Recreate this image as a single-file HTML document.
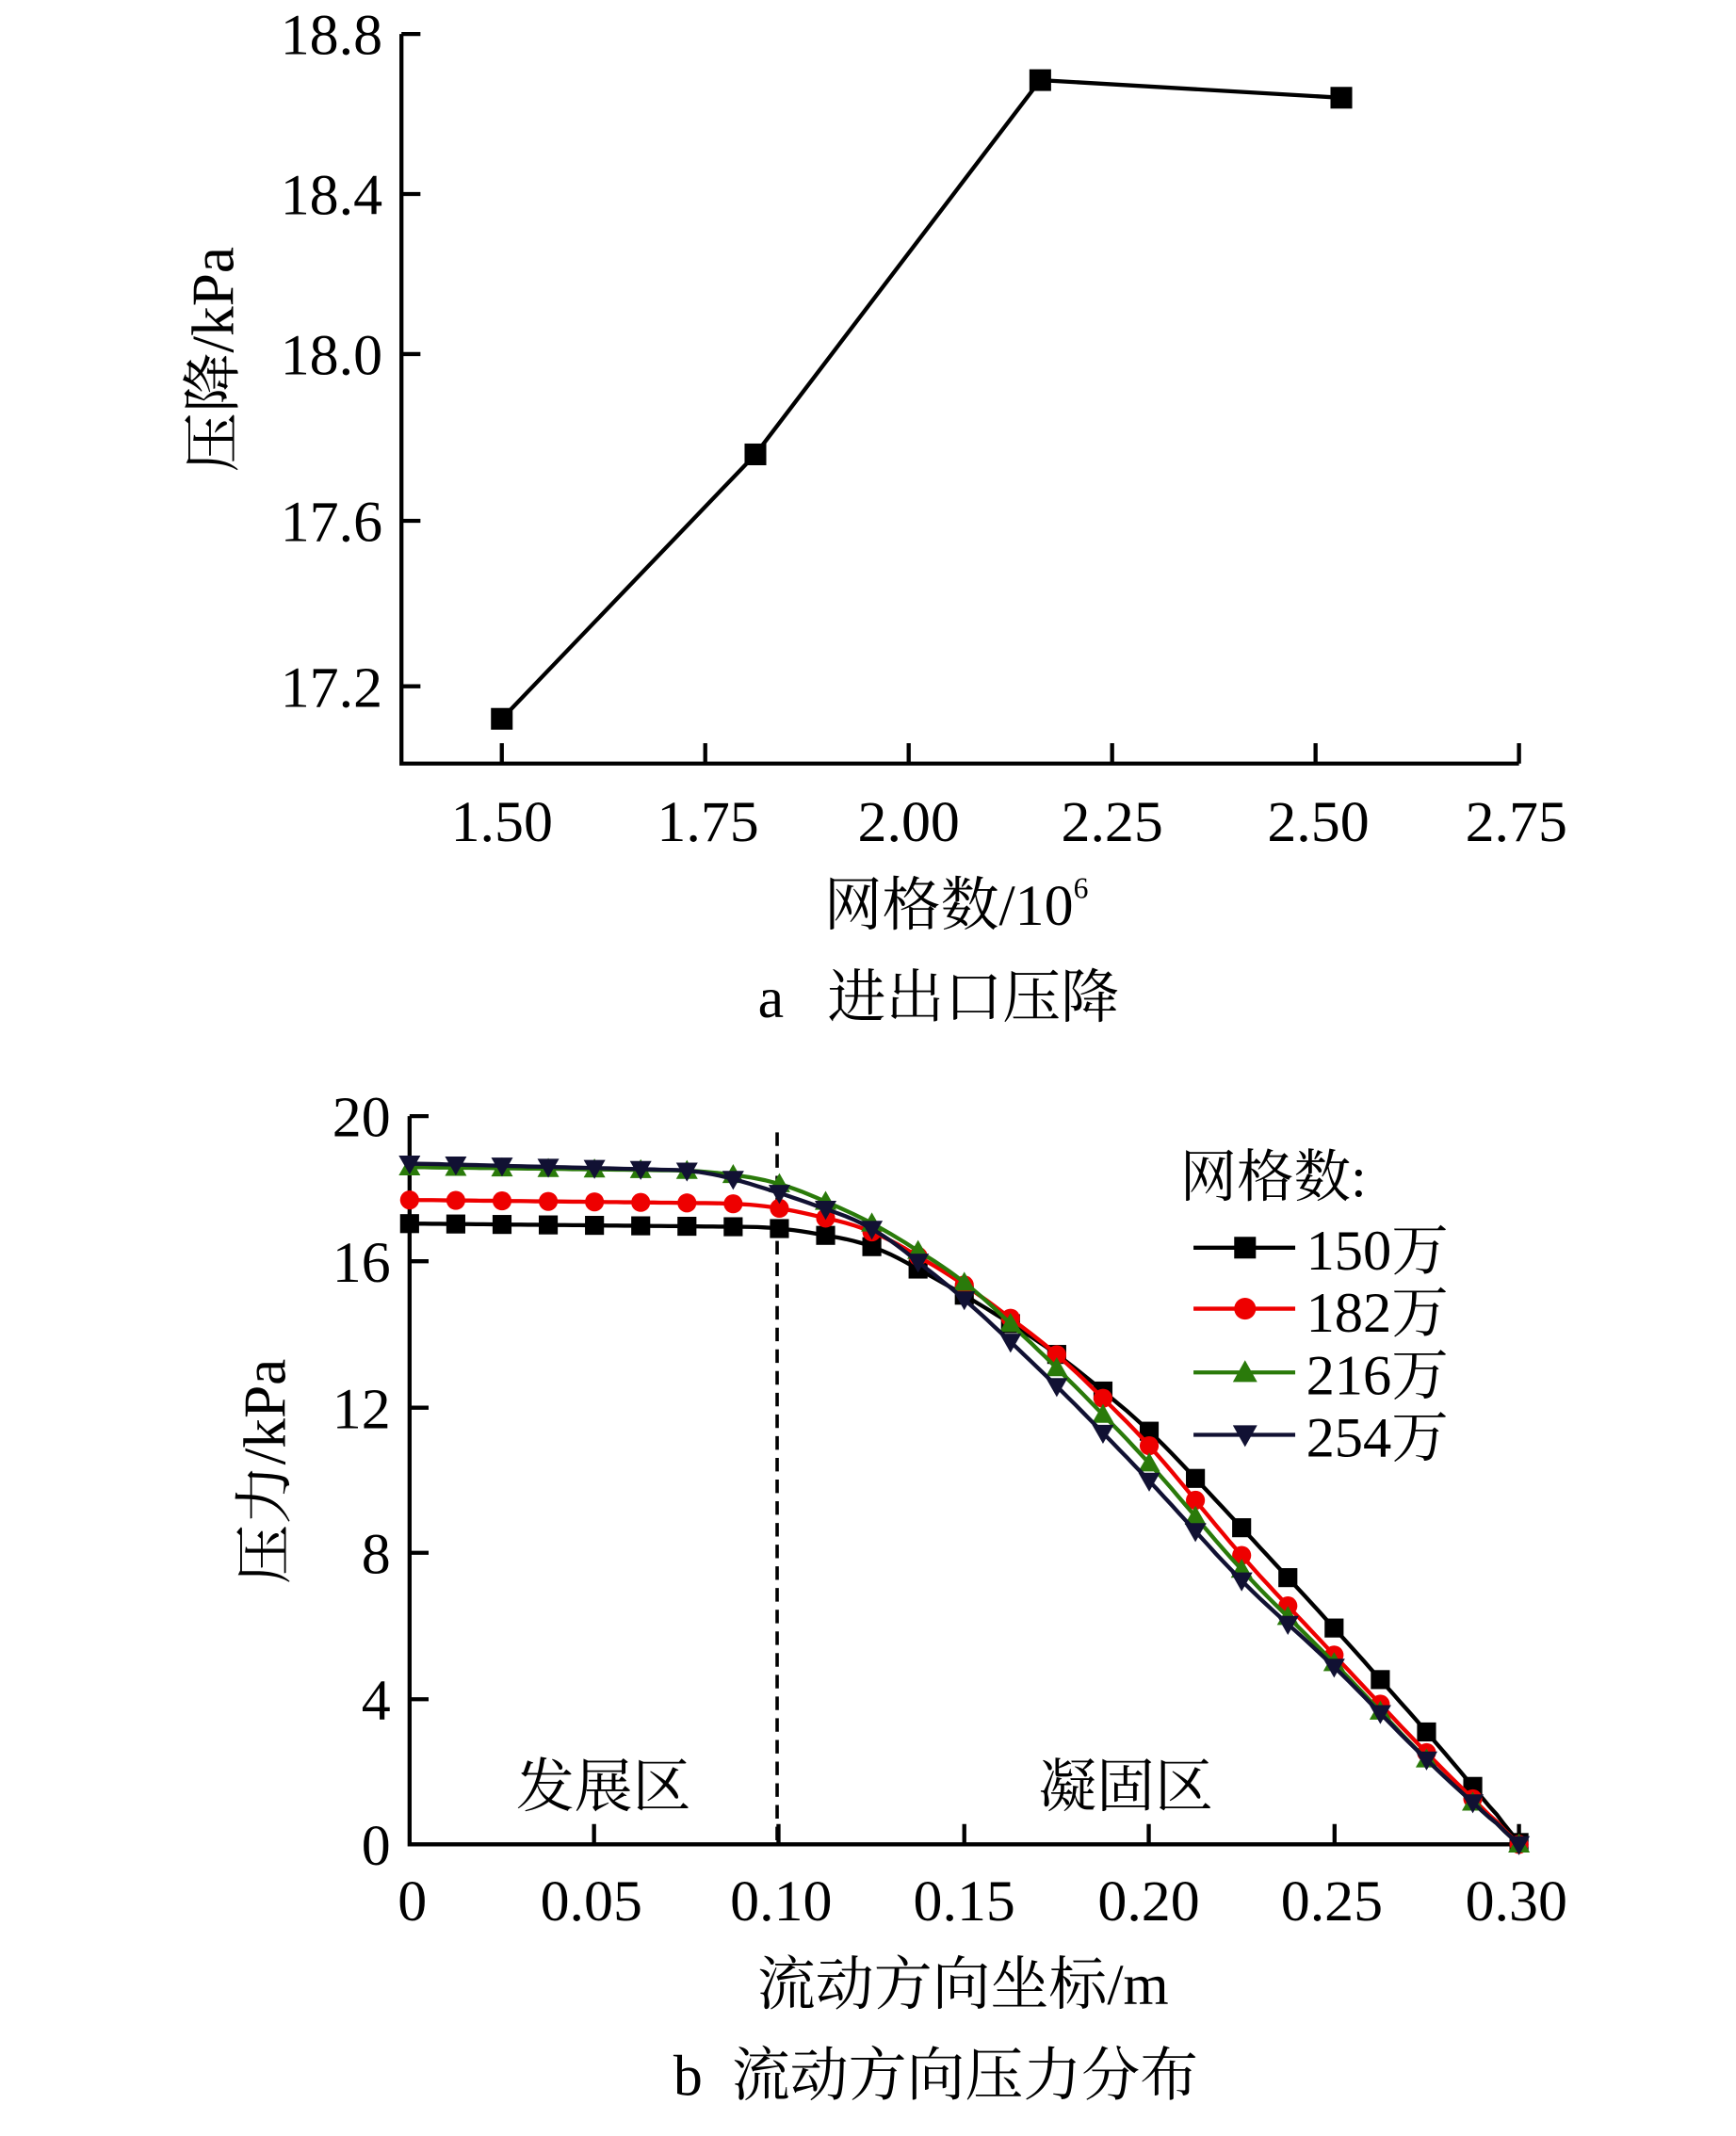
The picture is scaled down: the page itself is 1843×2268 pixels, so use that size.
<!DOCTYPE html>
<html><head><meta charset="utf-8"><style>
html,body{margin:0;padding:0;background:#fff}
svg{display:block}
text{font-family:"Liberation Serif","Noto Serif CJK SC",serif;fill:#000;white-space:pre}
</style></head><body>
<svg id="s" width="1843" height="2268" viewBox="0 0 1280 1575" xmlns="http://www.w3.org/2000/svg">
<rect width="1280" height="1575" fill="#fff"/>
<g stroke="#000" stroke-width="3" fill="none">
<path d="M296,25 V563 H1120"/>
<path d="M296,25 h14 M296,143 h14 M296,261 h14 M296,384 h14 M296,506 h14"/>
<path d="M370,563 v-15 M520,563 v-15 M670,563 v-15 M820,563 v-15 M970,563 v-15 M1120,563 v-15"/>
<polyline points="370,530 557,335 767,59 989,72" stroke-width="3"/>
</g>
<g fill="#000">
<rect x="362" y="522" width="16" height="16"/><rect x="549" y="327" width="16" height="16"/>
<rect x="759" y="51" width="16" height="16"/><rect x="981" y="64" width="16" height="16"/>
</g>
<g font-size="43" text-anchor="end">
<text x="282" y="40">18.8</text><text x="282" y="158">18.4</text><text x="282" y="276">18.0</text>
<text x="282" y="399">17.6</text><text x="282" y="521">17.2</text>
</g>
<g font-size="43" text-anchor="middle">
<text x="370" y="620">1.50</text><text x="522" y="620">1.75</text><text x="670" y="620">2.00</text>
<text x="820" y="620">2.25</text><text x="972" y="620">2.50</text><text x="1118" y="620">2.75</text>
<text x="705" y="682">网格数/10<tspan font-size="22" dy="-20">6</tspan></text>
<text x="692" y="750">a   进出口压降</text>
</g>
<text font-size="44" text-anchor="middle" transform="translate(172,265) rotate(-90)">压降/kPa</text>

<g stroke="#000" stroke-width="3" fill="none">
<path d="M302,823 V1360 H1120"/>
<path d="M302,823 h14 M302,930 h14 M302,1038 h14 M302,1145 h14 M302,1253 h14"/>
<path d="M438,1360 v-15 M574,1360 v-15 M711,1360 v-15 M847,1360 v-15 M984,1360 v-15 M1120,1360 v-15"/>
<path d="M573,835 V1360" stroke-dasharray="10,6" stroke-width="2.5"/>
</g>
<g font-size="43" text-anchor="end">
<text x="288" y="838">20</text><text x="288" y="945">16</text><text x="288" y="1053">12</text>
<text x="288" y="1160">8</text><text x="288" y="1268">4</text><text x="288" y="1375">0</text>
</g>
<g font-size="43" text-anchor="middle">
<text x="304" y="1416">0</text><text x="436" y="1416">0.05</text><text x="576" y="1416">0.10</text>
<text x="711" y="1416">0.15</text><text x="847" y="1416">0.20</text><text x="982" y="1416">0.25</text>
<text x="1118" y="1416">0.30</text>
<text x="710" y="1478">流动方向坐标/m</text>
<text x="690" y="1545">b  流动方向压力分布</text>
<text x="445" y="1332">发展区</text><text x="830" y="1332">凝固区</text>
</g>
<text font-size="44" text-anchor="middle" transform="translate(210,1085) rotate(-90)">压力/kPa</text>
<g id="series"></g>
<g font-size="42">
<text x="870" y="882">网格数:</text>
<text x="963" y="936">150万</text><text x="963" y="982">182万</text>
<text x="963" y="1028">216万</text><text x="963" y="1074">254万</text>
</g>
<g stroke-width="3">
<line x1="880" y1="920" x2="955" y2="920" stroke="#000"/><rect x="910" y="912" width="16" height="16" fill="#000"/>
<line x1="880" y1="965" x2="955" y2="965" stroke="#e00"/><circle cx="918" cy="965" r="8" fill="#e00"/>
<line x1="880" y1="1012" x2="955" y2="1012" stroke="#2a7a0a"/><polygon points="918,1003 927,1019 909,1019" fill="#2a7a0a"/>
<line x1="880" y1="1058" x2="955" y2="1058" stroke="#111133"/><polygon points="909,1051 927,1051 918,1067" fill="#111133"/>
</g>
</svg>
<script>
var S=[
{c:"#000",m:"sq",p:[[0,17.05],[0.1,16.95],[0.125,16.5],[0.15,15.1],[0.175,13.5],[0.2,11.4],[0.225,8.7],[0.25,5.95],[0.275,3.1],[0.2875,1.6],[0.3,0.05]]},
{c:"#e00",m:"ci",p:[[0,17.7],[0.09,17.6],[0.1,17.5],[0.125,16.9],[0.15,15.4],[0.175,13.5],[0.2,11.0],[0.225,7.9],[0.25,5.2],[0.275,2.5],[0.3,0]]},
{c:"#2a7a0a",m:"tu",p:[[0,18.6],[0.08,18.5],[0.1,18.2],[0.125,17.1],[0.15,15.5],[0.175,13.1],[0.2,10.5],[0.225,7.5],[0.25,5.0],[0.275,2.3],[0.3,0]]},
{c:"#111133",m:"td",p:[[0,18.7],[0.08,18.5],[0.1,17.9],[0.125,17.0],[0.15,15.0],[0.175,12.6],[0.2,10.0],[0.225,7.2],[0.25,4.9],[0.275,2.3],[0.3,0]]}];
function X(x){return 302+x/0.3*818}function Y(y){return 1360-y/20*537}
function lin(p,x){for(var i=0;i<p.length-1;i++){if(x<=p[i+1][0]){var t=(x-p[i][0])/(p[i+1][0]-p[i][0]);return p[i][1]+t*(p[i+1][1]-p[i][1]);}}return p[p.length-1][1];}
function interp(p,x){var s=0,n=0;for(var d=-0.008;d<=0.0081;d+=0.002){var xx=Math.min(0.3,Math.max(0,x+d));s+=lin(p,xx);n++;}return x>0.295?lin(p,x):s/n;}
var h="";
S.forEach(function(s){var pts=[];for(var i=0;i<=150;i++){var x=0.3*i/150;pts.push(X(x).toFixed(1)+","+Y(interp(s.p,x)).toFixed(1));}
h+='<polyline points="'+pts.join(" ")+'" fill="none" stroke="'+s.c+'" stroke-width="3"/>';
for(var i=0;i<=24;i++){var x=0.3*i/24,cx=X(x),cy=Y(interp(s.p,x));
if(s.m=="sq")h+='<rect x="'+(cx-7)+'" y="'+(cy-7)+'" width="14" height="14" fill="'+s.c+'"/>';
else if(s.m=="ci")h+='<circle cx="'+cx+'" cy="'+cy+'" r="7" fill="'+s.c+'"/>';
else if(s.m=="tu")h+='<polygon points="'+cx+','+(cy-8)+' '+(cx+8)+','+(cy+6)+' '+(cx-8)+','+(cy+6)+'" fill="'+s.c+'"/>';
else h+='<polygon points="'+(cx-8)+','+(cy-6)+' '+(cx+8)+','+(cy-6)+' '+cx+','+(cy+8)+'" fill="'+s.c+'"/>';}});
document.getElementById("series").innerHTML=h;
</script>
</body></html>
